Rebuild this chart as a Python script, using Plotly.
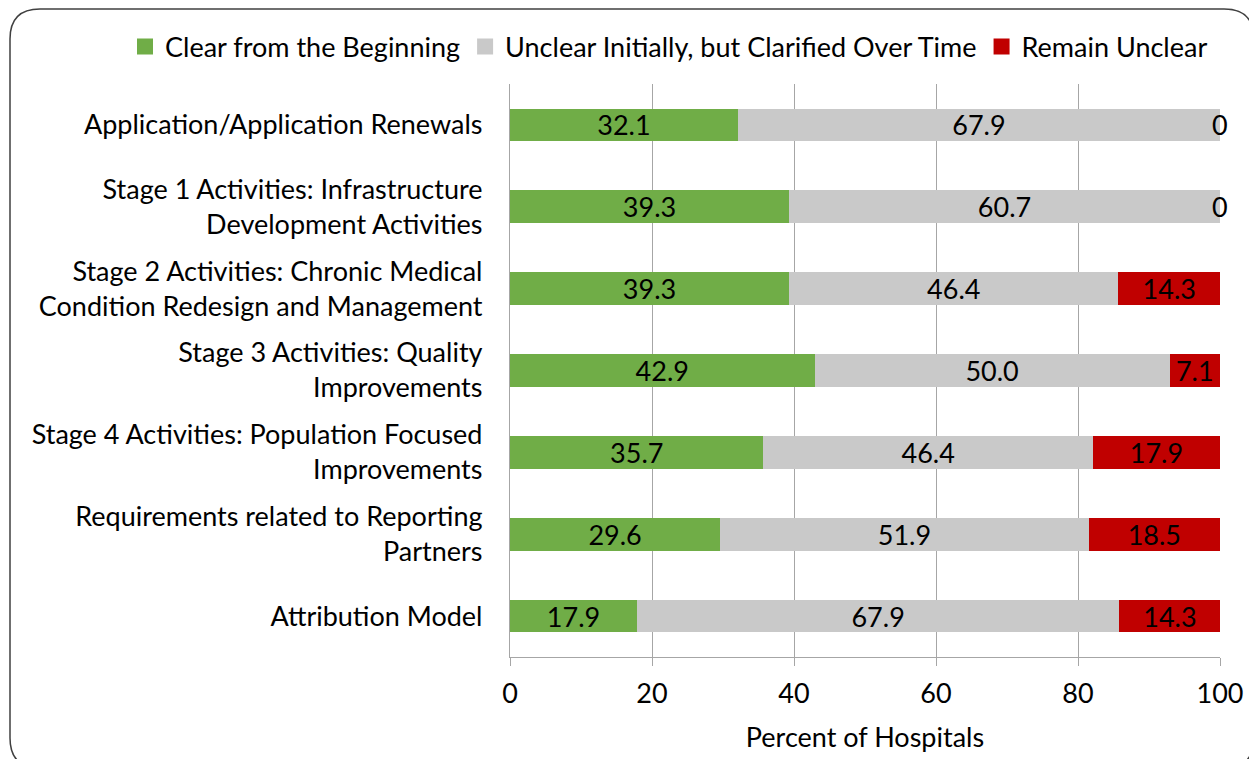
import plotly.graph_objects as go

categories = [
    "Application/Application Renewals",
    "Stage 1 Activities: Infrastructure<br>Development Activities",
    "Stage 2 Activities: Chronic Medical<br>Condition Redesign and Management",
    "Stage 3 Activities: Quality<br>Improvements",
    "Stage 4 Activities: Population Focused<br>Improvements",
    "Requirements related to Reporting<br>Partners",
    "Attribution Model",
]
clear_from_beginning = [32.1, 39.3, 39.3, 42.9, 35.7, 29.6, 17.9]
clarified_over_time = [67.9, 60.7, 46.4, 50.0, 46.4, 51.9, 67.9]
remain_unclear = [0, 0, 14.3, 7.1, 17.9, 18.5, 14.3]

series_names = ["Clear from the Beginning", "Unclear Initially, but Clarified Over Time", "Remain Unclear"]
series_values = [clear_from_beginning, clarified_over_time, remain_unclear]
colors = ["#70AD47", "#C9C9C9", "#C00000"]
x_ticks = [0, 20, 40, 60, 80, 100]

FONT = "Lato"
FS = 27
OFF = 8  # browser body margin
W, H = 1257 - OFF, 759 - OFF
L, R, T = 510 - OFF, 1257 - 1220, 84 - OFF
B = H - (657 - OFF)
PW, PH = W - L - R, H - T - B

fig = go.Figure()
for name, vals, col in zip(series_names, series_values, colors):
    fig.add_trace(go.Bar(
        y=categories, x=vals, orientation="h", name=name,
        marker=dict(color=col, line=dict(width=0)),
        text=[f"{v:.1f}" if v > 0 else "" for v in vals],
        textposition="inside", insidetextanchor="middle",
        textfont=dict(family=FONT, size=FS, color="black"),
        constraintext="none", textangle=0,
        showlegend=False, hoverinfo="x+name",
    ))
    fig.add_trace(go.Scatter(
        x=[None], y=[None], mode="markers", name=name,
        marker=dict(symbol="square", size=18, color=col),
    ))

# zero-value labels at the stacked end
annotations = []
for i, cat in enumerate(categories):
    if remain_unclear[i] == 0:
        total = clear_from_beginning[i] + clarified_over_time[i] + remain_unclear[i]
        annotations.append(dict(x=total, y=cat, xref="x", yref="y", text="0",
                                showarrow=False, xanchor="center",
                                font=dict(family=FONT, size=FS, color="black")))

def px(x):
    """reference pixel x -> paper"""
    return (x - OFF - L) / PW

def py(y):
    """reference pixel y -> paper"""
    return (H - B - (y - OFF)) / PH

x0, y0, x1, y1, r = 10, 9, 1254, 768, 30
path = (f"M {px(x0 + r)},{py(y0)} L {px(x1 - r)},{py(y0)} "
        f"Q {px(x1)},{py(y0)} {px(x1)},{py(y0 + r)} "
        f"L {px(x1)},{py(y1 - r)} Q {px(x1)},{py(y1)} {px(x1 - r)},{py(y1)} "
        f"L {px(x0 + r)},{py(y1)} Q {px(x0)},{py(y1)} {px(x0)},{py(y1 - r)} "
        f"L {px(x0)},{py(y0 + r)} Q {px(x0)},{py(y0)} {px(x0 + r)},{py(y0)} Z")

fig.update_layout(
    barmode="stack", bargap=0.6,
    width=W, height=H,
    margin=dict(l=L, r=R, t=T, b=B, autoexpand=False),
    plot_bgcolor="white", paper_bgcolor="white",
    font=dict(family=FONT, size=FS, color="black"),
    legend=dict(orientation="h", x=px(125), xanchor="left", y=py(47), yanchor="middle",
                traceorder="normal",
                font=dict(family=FONT, size=FS, color="black"),
                itemwidth=30, tracegroupgap=0, bgcolor="rgba(0,0,0,0)"),
    annotations=annotations,
    shapes=[dict(type="path", xref="paper", yref="paper", path=path,
                 line=dict(color="#404040", width=1.5), layer="above")],
    xaxis=dict(range=[0, 100], tickvals=x_ticks, showgrid=True, gridcolor="#A6A6A6",
               gridwidth=1.2, zeroline=False, showline=True, linecolor="#A6A6A6", linewidth=1.2,
               ticks="outside", ticklen=8, tickcolor="#A6A6A6", automargin=False,
               ticklabelstandoff=4,
               tickfont=dict(family=FONT, size=FS, color="black"),
               title=dict(text="Percent of Hospitals", font=dict(family=FONT, size=FS, color="black"),
                          standoff=20)),
    yaxis=dict(autorange="reversed", showline=True, linecolor="#A6A6A6", linewidth=1.2,
               ticks="", ticklabelstandoff=21, showgrid=False, automargin=False,
               tickfont=dict(family=FONT, size=FS, color="black")),
)

fig.write_html("out.html")
